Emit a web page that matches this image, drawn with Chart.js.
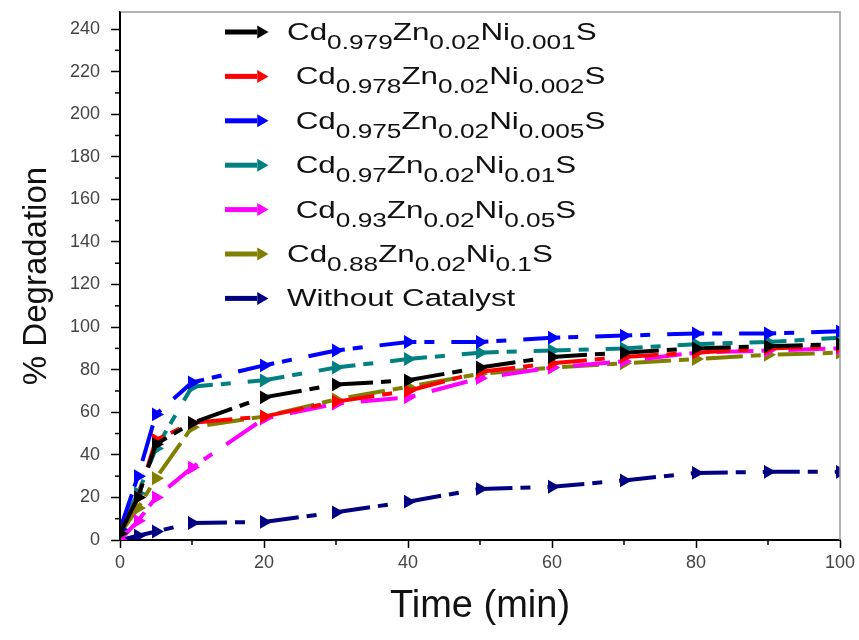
<!DOCTYPE html>
<html><head><meta charset="utf-8">
<script src="https://cdn.jsdelivr.net/npm/chart.js@4.4.1/dist/chart.umd.min.js"></script>
<style>html,body{margin:0;padding:0;background:#fff;}#wrap{width:859px;height:640px;position:relative;}</style>
</head><body><div id="wrap"><canvas id="c" width="859" height="640"></canvas></div>
<script>
// ---- data ----
const timeMin = [0, 2.5, 5, 10, 20, 30, 40, 50, 60, 70, 80, 90, 100];
const seriesLabels = [
  "Cd_{0.979}Zn_{0.02}Ni_{0.001}S",
  " Cd_{0.978}Zn_{0.02}Ni_{0.002}S",
  " Cd_{0.975}Zn_{0.02}Ni_{0.005}S",
  " Cd_{0.97}Zn_{0.02}Ni_{0.01}S",
  " Cd_{0.93}Zn_{0.02}Ni_{0.05}S",
  "Cd_{0.88}Zn_{0.02}Ni_{0.1}S",
  "Without Catalyst"
];
const ni001 = [3, 20, 45, 55, 67, 73, 75, 81, 86, 88, 90, 91, 92];
const ni002 = [3, 20, 47, 55, 58, 65, 70, 79, 83, 86, 88, 90, 91];
const ni005 = [5, 30, 59, 74, 82, 89, 93, 93, 95, 96, 97, 97, 98];
const ni01  = [5, 22, 43, 72, 75, 81, 85, 88, 89, 90, 92, 93, 95];
const ni05  = [0, 9, 20, 34, 57, 64, 67, 76, 81, 84, 88, 89, 90];
const ni1   = [3, 15, 29, 53, 58, 66, 72, 78, 81, 83, 85, 87, 88];
const noCat = [0, 2, 4, 8, 8.5, 13, 18, 24, 25, 28, 31.5, 32, 32];
const xTickValues = [0, 20, 40, 60, 80, 100];
const yTickValues = [0, 20, 40, 60, 80, 100, 120, 140, 160, 180, 200, 220, 240];
const seriesColors = ['#000000', '#ff0000', '#0000ff', '#008080', '#ff00ff', '#808000', '#000080'];

const seriesValues = [ni001, ni002, ni005, ni01, ni05, ni1, noCat];
const FONT = '"Liberation Sans", Arial, sans-serif';

function parseLabel(s) {
  const segs = [];
  const re = /_\{([^}]*)\}|([^_]+)/g;
  let m;
  while ((m = re.exec(s)) !== null) {
    if (m[1] !== undefined) segs.push({ t: m[1], sub: true });
    else segs.push({ t: m[2], sub: false });
  }
  return segs;
}

const datasets = seriesValues.map((vals, i) => ({
  label: seriesLabels[i],
  data: timeMin.map((t, j) => ({ x: t, y: vals[j] })),
  borderColor: seriesColors[i],
  backgroundColor: seriesColors[i],
  borderWidth: 4,
  borderDash: [37, 8, 10, 17],
  pointStyle: 'triangle',
  pointRotation: 90,
  pointRadius: 8,
  pointBorderWidth: 0,
  tension: 0
}));

const framePlugin = {
  id: 'frame',
  afterDraw(chart) {
    const { ctx, chartArea: a } = chart;
    ctx.save();
    ctx.strokeStyle = '#9a9a9a';
    ctx.lineWidth = 1.5;
    ctx.beginPath();
    ctx.moveTo(a.left, a.top); ctx.lineTo(a.right, a.top); ctx.lineTo(a.right, a.bottom);
    ctx.stroke();
    ctx.strokeStyle = '#000';
    ctx.lineWidth = 2;
    ctx.beginPath(); ctx.moveTo(a.left, a.top); ctx.lineTo(a.left, a.bottom); ctx.stroke();
    // minor ticks
    ctx.lineWidth = 1.5;
    const xs = chart.scales.x, ys = chart.scales.y;
    for (let v = 10; v < xs.max; v += 20) {
      const px = xs.getPixelForValue(v);
      ctx.beginPath(); ctx.moveTo(px, a.bottom); ctx.lineTo(px, a.bottom + 5); ctx.stroke();
    }
    for (let v = 10; v < ys.max; v += 20) {
      const py = ys.getPixelForValue(v);
      ctx.beginPath(); ctx.moveTo(a.left, py); ctx.lineTo(a.left - 5, py); ctx.stroke();
    }
    ctx.restore();
  }
};

const legendPlugin = {
  id: 'subLegend',
  afterDraw(chart) {
    const ctx = chart.ctx;
    const a = chart.chartArea;
    chart.data.datasets.forEach((ds, i) => {
      const y = a.top + 20 + i * 44.4;
      const x0 = a.left + 105;
      ctx.save();
      ctx.strokeStyle = ds.borderColor;
      ctx.lineWidth = 5;
      ctx.beginPath(); ctx.moveTo(x0, y); ctx.lineTo(x0 + 32, y); ctx.stroke();
      ctx.fillStyle = ds.borderColor;
      Chart.helpers.drawPoint(ctx, { pointStyle: 'triangle', rotation: 90, radius: 7.5, borderWidth: 0 }, x0 + 36, y);
      ctx.restore();
      ctx.save();
      ctx.fillStyle = '#111';
      ctx.textBaseline = 'alphabetic';
      ctx.translate(x0 + 62, y + 8);
      ctx.scale(1.28, 1);
      let x = 0;
      parseLabel(ds.label).forEach(seg => {
        ctx.font = (seg.sub ? '20.5px ' : '24.5px ') + FONT;
        ctx.fillText(seg.t, x, seg.sub ? 9 : 0);
        x += ctx.measureText(seg.t).width;
      });
      ctx.restore();
    });
  }
};

new Chart(document.getElementById('c'), {
  type: 'line',
  data: { datasets },
  plugins: [framePlugin, legendPlugin],
  options: {
    responsive: false,
    animation: false,
    layout: { padding: { top: 12, right: 19, left: 0, bottom: 0 } },
    plugins: { legend: { display: false }, tooltip: { enabled: false } },
    scales: {
      x: {
        type: 'linear', min: 0, max: 100,
        afterBuildTicks(s) { s.ticks = xTickValues.map(v => ({ value: v })); },
        ticks: { font: { family: FONT, size: 18 }, color: '#444', padding: 4, maxRotation: 0 },
        grid: { drawOnChartArea: false, tickLength: 8, tickColor: '#000', tickWidth: 1.5 },
        border: { color: '#000', width: 2 },
        title: { display: true, text: 'Time (min)', font: { family: FONT, size: 38 }, color: '#111', padding: { top: 0, bottom: 11 } },
        afterFit(s) { s.height = 100; s.paddingLeft = 0; s.paddingRight = 0; }
      },
      y: {
        type: 'linear', min: 0, max: 248,
        afterBuildTicks(s) { s.ticks = yTickValues.map(v => ({ value: v })); },
        ticks: { font: { family: FONT, size: 18 }, color: '#444', padding: 11 },
        grid: { drawOnChartArea: false, tickLength: 9, tickColor: '#000', tickWidth: 1.5 },
        border: { color: '#000', width: 2 },
        title: { display: true, text: '% Degradation', font: { family: FONT, size: 33 }, color: '#111', padding: { top: 17, bottom: 0 } },
        afterFit(s) { s.width = 120; s.paddingTop = 0; s.paddingBottom = 0; }
      }
    }
  }
});
</script></body></html>
